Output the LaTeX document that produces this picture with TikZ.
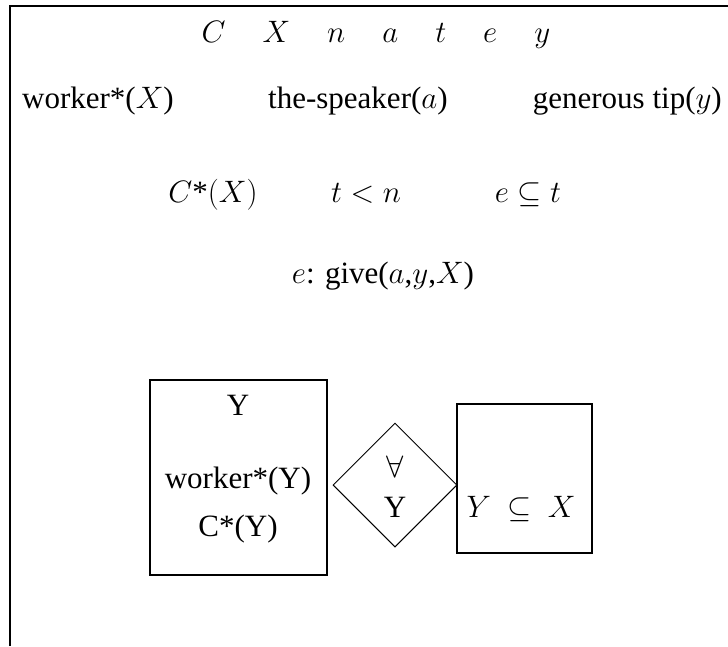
\documentclass[tikz,border=0pt]{standalone}
\usepackage{fix-cm}
\usepackage[no-math]{fontspec}
\setmainfont{Liberation Serif}
\usetikzlibrary{shapes.geometric}
\newcommand{\refgap}{\hspace{37pt}}
\begin{document}
\begin{tikzpicture}[x=1pt,y=-1pt,
    txt/.style={inner sep=0pt,anchor=base,font=\fontsize{31}{36}\selectfont},
    drsbox/.style={draw,line width=2pt,inner sep=0pt},
    quant/.style={draw,diamond,line width=1pt,inner sep=0pt,
      minimum width=124pt,minimum height=124pt}]
  \useasboundingbox (0,0) rectangle (728,646);
  \draw[line width=2pt] (10,646) -- (10,6) -- (728,6);
  % universe
  \node[txt] (refs) at (376,42) {$C\refgap X\refgap n\refgap a\refgap t\refgap e\refgap y$};
  \node[txt,anchor=base west] (worker) at (22,108) {worker*($X$)};
  \node[txt,anchor=base west] (speaker) at (268,108) {the-speaker($a$)};
  \node[txt,anchor=base east] (tip) at (722,108) {generous tip($y$)};
  % conditions
  \node[txt] (coll) at (213,202) {$C$*$(X)$};
  \node[txt] (tense) at (366,202) {$t < n$};
  \node[txt] (incl) at (528,202) {$e \subseteq t$};
  \node[txt] (give) at (383,283) {$e$: give($a$,$y$,$X$)};
  % duplex condition
  \node[drsbox,minimum width=177pt,minimum height=195pt] (restr) at (238.5,477.5) {};
  \node[quant] (every) at (395,485) {};
  \node[drsbox,minimum width=135pt,minimum height=149pt] (scope) at (524.5,478) {};
  \node[txt] (restrY) at (238,415) {Y};
  \node[txt] (restrW) at (238,488) {worker*(Y)};
  \node[txt] (restrC) at (238,536) {C*(Y)};
  \node[txt] (forall) at (395,477) {$\forall$};
  \node[txt] (forallY) at (395,517) {Y};
  \node[txt] (sub) at (521,517) {$Y\ \subseteq\ X$};
\end{tikzpicture}
\end{document}
